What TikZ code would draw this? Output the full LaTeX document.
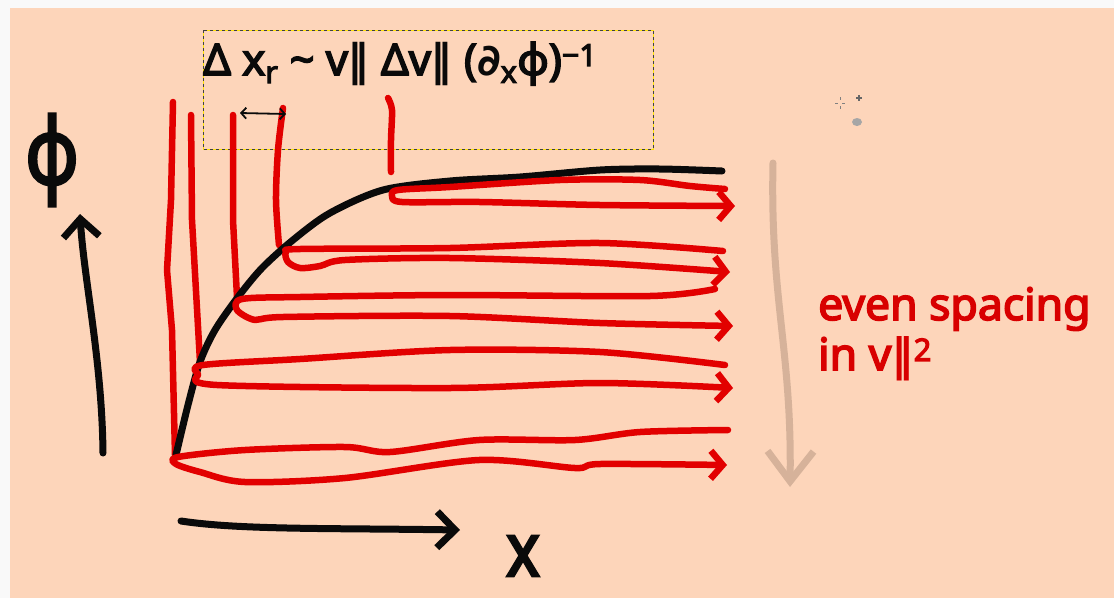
\documentclass[tikz,border=0pt]{standalone}
\usepackage{fontspec}
\setmainfont{Noto Sans}
\newfontfamily\boldsans{Noto Sans}[FakeBold=3.6]
\newfontfamily\symfont{DejaVu Sans}
\usetikzlibrary{arrows.meta,positioning}
\definecolor{peach}{RGB}{253,213,186}
\definecolor{margin}{RGB}{249,249,249}
\definecolor{inkred}{RGB}{226,0,0}
\definecolor{textred}{RGB}{216,0,0}
\definecolor{inkblack}{RGB}{10,10,10}
\definecolor{sand}{RGB}{214,178,154}
\newcommand{\vpar}{{\symfont\bfseries ‖}}

\begin{document}
\begin{tikzpicture}[
    x=1pt, y=-1pt,
    blackink/.style={draw=inkblack, line width=7pt, line cap=round, line join=round},
    redink/.style={draw=inkred, line width=6.5pt, line cap=round, line join=round},
    arrow/.style={-{Straight Barb[length=12pt,width=28pt]}},
    bigarrow/.style={-{Straight Barb[length=18pt,width=36pt]}},
    title/.style={font=\boldsans\fontsize{43.5}{46}\selectfont, text=inkblack, inner sep=0pt},
    note/.style={font=\boldsans\fontsize{44.5}{50}\selectfont, text=textred, align=left, inner sep=0pt},
    axislabel/.style={text=inkblack, inner sep=0pt}
]
% page and background
\fill[margin] (0,0) rectangle (1114,598);
\fill[peach] (10,8) rectangle (1114,598);
\useasboundingbox (0,0) rectangle (1114,598);

% selection box round the formula
\draw[yellow!85!orange, line width=1pt] (203,30) rectangle (653,149);
\draw[black!75, line width=1pt, dash pattern=on 3pt off 3pt] (203,30) rectangle (653,149);
\node[title, anchor=base west] (formula) at (203,75)
    {Δ x\textsubscript{r} \textasciitilde{} v\vpar{} Δv\vpar{} ({\symfont\bfseries ∂}\textsubscript{x}φ)\textsuperscript{−1}};

% axes
\node[axislabel, font=\boldsans\fontsize{92}{92}\selectfont, xscale=0.8] (phi) at (52,160) {φ};
\node[axislabel, font=\boldsans\fontsize{75}{75}\selectfont, xscale=0.85] (xlabel) at (523,556) {x};
\coordinate (phitail) at (103,453);
\coordinate (phitip) at (80,214);
\coordinate (xtail) at (181,521);
\coordinate (xtip) at (460,530);
\draw[blackink, bigarrow] (phitail) .. controls (102,360) and (84,280) .. (phitip);
\draw[blackink, bigarrow] (xtail) .. controls (240,530) and (330,528) .. (xtip);

% turning points (vertical strokes)
\draw[redink] (173,102) -- (171,200) -- (167,270) -- (172,330) -- (175,455);
\draw[redink] (191,115) -- (192,220) -- (200,362);
\draw[redink] (233,115) -- (233,220) -- (237,297);
\draw[redink] plot[smooth] coordinates {(283,108) (278,150) (276,200) (279,245)};
\draw[redink] plot[smooth] coordinates {(388,98) (392,110) (391,140) (391,172)};

% potential curve
\draw[blackink] plot[smooth] coordinates {(176,455) (188,405) (200,362) (215,330) (238,297)
    (262,268) (293,240) (330,213) (383,190) (450,181) (520,177) (600,170) (660,169) (722,171)};

% bounces
\draw[redink, arrow] plot[smooth] coordinates {(725,189) (690,186) (640,180) (560,180) (450,187)
    (398,190) (392,196) (402,202) (480,202) (600,205) (735,206)};
\draw[redink, arrow] plot[smooth] coordinates {(723,251) (600,243) (450,248) (300,249) (286,252)
    (288,262) (300,268) (320,266) (345,260) (450,258) (600,263) (730,272)};
\draw[redink, arrow] plot[smooth] coordinates {(715,289) (650,296) (450,295) (300,297) (242,299)
    (237,310) (255,320) (283,317) (450,316) (600,323) (733,326)};
\draw[redink, arrow] plot[smooth] coordinates {(725,365) (600,352) (450,350) (300,359) (203,365)
    (198,374) (217,385) (450,388) (600,383) (733,388)};
\draw[redink, arrow] plot[smooth] coordinates {(728,430) (640,432) (575,440) (479,440) (390,452)
    (345,447) (245,450) (178,457) (176,464) (200,472) (245,482) (345,478) (479,460) (575,468)
    (600,464) (727,465)};

% width between neighbouring turning points
\draw[inkblack, line width=1.8pt, {Straight Barb[length=5pt,width=11pt]}-{Straight Barb[length=5pt,width=11pt]}]
    (240,113) -- (286,114);

% spacing arrow and note
\draw[draw=sand, line width=7pt, line cap=round, -{Straight Barb[length=30pt,width=46pt]}]
    (773,163) .. controls (770,300) and (792,350) .. (790,487);
\node[note, anchor=base west] (spacing) at (818,370) {even spacing\\in v\vpar\textsuperscript{2}};

% cursor marks
\draw[gray, line width=1pt] (835,103) -- (838,103) (842,103) -- (845,103) (840,97) -- (840,100) (840,106) -- (840,109);
\draw[gray!80!black, line width=1.5pt] (856,98) -- (862,98) (859,95) -- (859,101);
\fill[gray!70] (857,122) ellipse (5pt and 4pt);
\end{tikzpicture}
\end{document}
